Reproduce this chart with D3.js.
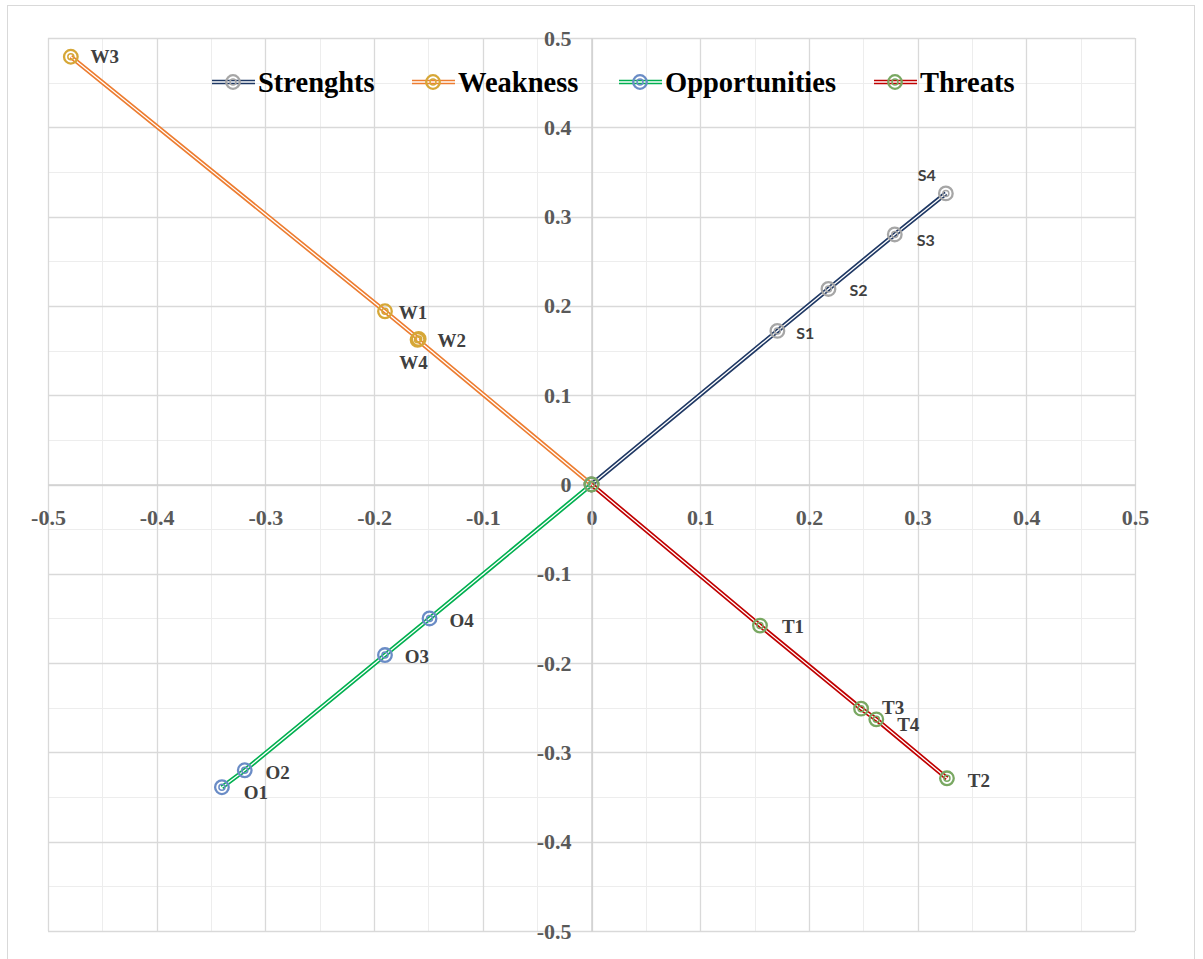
<!DOCTYPE html>
<html>
<head>
<meta charset="utf-8">
<script src="https://cdn.jsdelivr.net/npm/d3@7"></script>
<style>
  html, body { margin: 0; padding: 0; background: #fff; }
  svg { display: block; }
</style>
</head>
<body>
<svg id="chart" width="1203" height="959"></svg>
<script>
// SWOT factor coordinates: every series starts at the origin
const seriesNames = ["Strenghts", "Weakness", "Opportunities", "Threats"];
const strengthLabels = ["S1", "S2", "S3", "S4"];
const strengthX = [0.171, 0.218, 0.279, 0.326];
const strengthY = [0.172, 0.219, 0.280, 0.326];
const weaknessLabels = ["W1", "W2", "W3", "W4"];
const weaknessX = [-0.190, -0.159, -0.479, -0.160];
const weaknessY = [0.194, 0.163, 0.479, 0.162];
const opportunityLabels = ["O1", "O2", "O3", "O4"];
const opportunityX = [-0.340, -0.319, -0.190, -0.149];
const opportunityY = [-0.339, -0.320, -0.191, -0.150];
const threatLabels = ["T1", "T2", "T3", "T4"];
const threatX = [0.155, 0.327, 0.248, 0.262];
const threatY = [-0.158, -0.329, -0.251, -0.263];
const tickValues = [-0.5, -0.4, -0.3, -0.2, -0.1, 0, 0.1, 0.2, 0.3, 0.4, 0.5];
const minorTicks = d3.range(-0.5, 0.5001, 0.05).map(v => +v.toFixed(2));

const svg = d3.select("#chart");

const x = d3.scaleLinear().domain([-0.5, 0.5]).range([48, 1135]);
const y = d3.scaleLinear().domain([-0.5, 0.5]).range([931, 38]);

// chart frame
svg.append("rect").attr("x", 7.5).attr("y", 5.5).attr("width", 1187).attr("height", 960)
  .attr("fill", "#fff").attr("stroke", "#d9d9d9").attr("stroke-width", 1);

// minor gridlines
const grid = svg.append("g");
grid.selectAll("line.mx").data(minorTicks).join("line")
  .attr("x1", d => Math.round(x(d)) + 0.5).attr("x2", d => Math.round(x(d)) + 0.5)
  .attr("y1", y(0.5)).attr("y2", y(-0.5))
  .attr("stroke", "#ededed").attr("stroke-width", 1);
grid.selectAll("line.my").data(minorTicks).join("line")
  .attr("y1", d => Math.round(y(d)) + 0.5).attr("y2", d => Math.round(y(d)) + 0.5)
  .attr("x1", x(-0.5)).attr("x2", x(0.5))
  .attr("stroke", "#ededed").attr("stroke-width", 1);
// major gridlines
grid.selectAll("line.Mx").data(tickValues).join("line")
  .attr("x1", d => Math.round(x(d)) + 0.5).attr("x2", d => Math.round(x(d)) + 0.5)
  .attr("y1", y(0.5)).attr("y2", y(-0.5))
  .attr("stroke", "#d9d9d9").attr("stroke-width", 1.3);
grid.selectAll("line.My").data(tickValues).join("line")
  .attr("y1", d => Math.round(y(d)) + 0.5).attr("y2", d => Math.round(y(d)) + 0.5)
  .attr("x1", x(-0.5)).attr("x2", x(0.5))
  .attr("stroke", "#d9d9d9").attr("stroke-width", 1.3);

// axes crossing at the origin; plain hyphen for negatives
const fmt = d => d === 0 ? "0" : d3.format(".1f")(d).replace("\u2212", "-");
const xAxis = svg.append("g").attr("transform", `translate(0,${y(0)})`)
  .call(d3.axisBottom(x).tickValues(tickValues).tickSize(0).tickPadding(25).tickFormat(fmt));
const yAxis = svg.append("g").attr("transform", `translate(${x(0)},0)`)
  .call(d3.axisLeft(y).tickValues(tickValues).tickSize(0).tickPadding(20).tickFormat(fmt));
[xAxis, yAxis].forEach(a => {
  a.select(".domain").attr("stroke", "#d0d0d0").attr("stroke-width", 1.5);
  a.selectAll("text").attr("font-family", "'Liberation Serif', 'Times New Roman', serif")
    .attr("font-weight", "bold").attr("font-size", 22).attr("fill", "#595959");
});

const series = [
  { name: seriesNames[0], labels: strengthLabels, xs: strengthX, ys: strengthY,
    line: "#1f3864", marker: "#a6a6a6", labelFont: "sans" },
  { name: seriesNames[1], labels: weaknessLabels, xs: weaknessX, ys: weaknessY,
    line: "#ed7d31", marker: "#d6a737", labelFont: "serif" },
  { name: seriesNames[2], labels: opportunityLabels, xs: opportunityX, ys: opportunityY,
    line: "#00b050", marker: "#6a8cc6", labelFont: "serif" },
  { name: seriesNames[3], labels: threatLabels, xs: threatX, ys: threatY,
    line: "#c00000", marker: "#79a862", labelFont: "serif" }
];

// label offsets per point (text anchor middle)
const labelOffsets = {
  S1: [28, 2], S2: [30, 1], S3: [31, 6], S4: [-19, -18],
  W1: [28, 1], W2: [33, 1], W3: [34, 0], W4: [-4, 23],
  O1: [34, 5], O2: [33, 2], O3: [32, 1], O4: [32, 2],
  T1: [33, 1], T2: [32, 2], T3: [32, -1], T4: [32, 5]
};

function drawDoubleLine(g, pts, color) {
  const gen = d3.line().x(d => x(d[0])).y(d => y(d[1]));
  g.append("path").attr("d", gen(pts)).attr("fill", "none")
    .attr("stroke", color).attr("stroke-width", 4.6);
  g.append("path").attr("d", gen(pts)).attr("fill", "none")
    .attr("stroke", "#fff").attr("stroke-width", 1.3);
}
function drawMarker(g, cx, cy, color) {
  g.append("circle").attr("cx", cx).attr("cy", cy).attr("r", 6.8)
    .attr("fill", "none").attr("stroke", color).attr("stroke-width", 2.3);
  g.append("circle").attr("cx", cx).attr("cy", cy).attr("r", 3)
    .attr("fill", "none").attr("stroke", color).attr("stroke-width", 1.5);
}

const plot = svg.append("g");
series.forEach(s => {
  const g = plot.append("g");
  const pts = s.xs.map((v, i) => [v, s.ys[i], s.labels[i]]);
  const ordered = [[0, 0, null]].concat(pts.slice().sort((a, b) =>
    Math.hypot(a[0], a[1]) - Math.hypot(b[0], b[1])));
  drawDoubleLine(g, ordered, s.line);
  ordered.forEach(p => drawMarker(g, x(p[0]), y(p[1]), s.marker));
  pts.forEach(p => {
    const off = labelOffsets[p[2]];
    g.append("text")
      .attr("x", x(p[0]) + off[0]).attr("y", y(p[1]) + off[1])
      .attr("dy", "0.35em").attr("text-anchor", "middle")
      .attr("font-family", s.labelFont === "sans"
        ? "Lato, 'Open Sans', sans-serif" : "'Liberation Serif', 'Times New Roman', serif")
      .attr("font-weight", "bold")
      .attr("font-size", s.labelFont === "sans" ? 16 : 19)
      .attr("fill", "#404040")
      .text(p[2]);
  });
});

// legend
const legendX = [212, 412, 619, 874];
const legend = svg.append("g").attr("transform", "translate(0,82)");
series.forEach((s, i) => {
  const g = legend.append("g").attr("transform", `translate(${legendX[i]},0)`);
  g.append("line").attr("x1", 0).attr("x2", 43).attr("y1", 0).attr("y2", 0)
    .attr("stroke", s.line).attr("stroke-width", 4.6);
  g.append("line").attr("x1", 0).attr("x2", 43).attr("y1", 0).attr("y2", 0)
    .attr("stroke", "#fff").attr("stroke-width", 1.3);
  drawMarker(g, 21, 0, s.marker);
  g.append("text").attr("x", 46).attr("y", 0).attr("dy", "0.34em")
    .attr("font-family", "'Liberation Serif', 'Times New Roman', serif")
    .attr("font-weight", "bold").attr("font-size", 28.5).attr("fill", "#000")
    .text(s.name);
});
</script>
</body>
</html>
